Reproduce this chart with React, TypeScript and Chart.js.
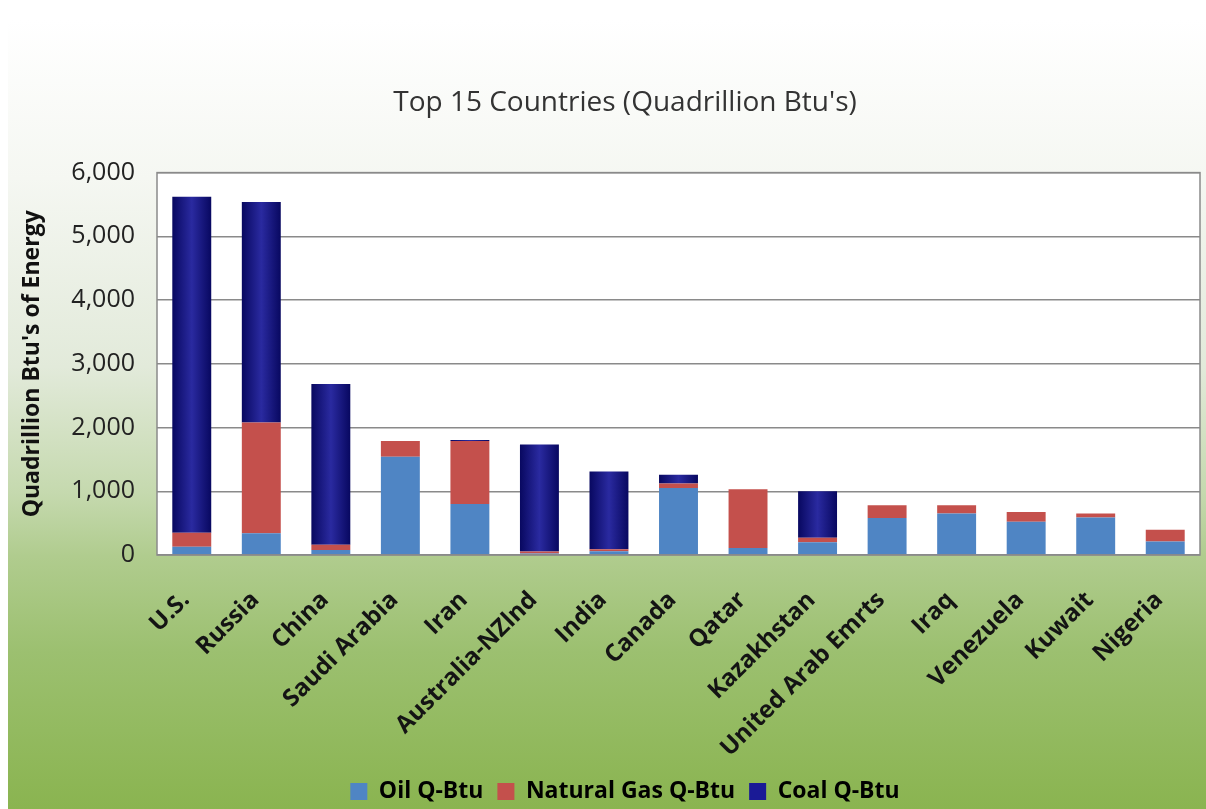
import React, { useEffect, useRef } from "react";
import { Chart, registerables } from "chart.js";

Chart.register(...registerables);

const categories = [
  "U.S.",
  "Russia",
  "China",
  "Saudi Arabia",
  "Iran",
  "Australia-NZlnd",
  "India",
  "Canada",
  "Qatar",
  "Kazakhstan",
  "United Arab Emrts",
  "Iraq",
  "Venezuela",
  "Kuwait",
  "Nigeria",
];
const oilValues = [130, 340, 80, 1540, 800, 25, 60, 1050, 110, 200, 580, 650, 520, 590, 210];
const gasValues = [220, 1740, 80, 250, 990, 30, 30, 70, 920, 70, 200, 130, 155, 60, 185];
const coalValues = [5270, 3460, 2525, 0, 15, 1680, 1220, 140, 0, 730, 0, 0, 0, 0, 0];
const yMax = 6000;
const yStep = 1000;

const FONT = "'Open Sans', 'DejaVu Sans', sans-serif";

export default function App() {
  const ref = useRef<HTMLCanvasElement>(null);

  useEffect(() => {
    const canvas = ref.current;
    if (!canvas) return;

    const bgPlugin = {
      id: "bgPlugin",
      beforeDraw(chart: any) {
        const { ctx, width, height, chartArea } = chart;
        ctx.save();
        ctx.fillStyle = "#ffffff";
        ctx.fillRect(0, 0, width, height);
        const g = ctx.createLinearGradient(0, 20, 0, height);
        g.addColorStop(0, "#ffffff");
        g.addColorStop(0.2, "#f5f7f2");
        g.addColorStop(0.44, "#e2eada");
        g.addColorStop(0.6, "#c5d9ae");
        g.addColorStop(0.68, "#b0cc8e");
        g.addColorStop(0.8, "#9cc070");
        g.addColorStop(1, "#8ab450");
        ctx.fillStyle = g;
        ctx.fillRect(8, 20, width - 8, height - 20);
        ctx.fillStyle = "#ffffff";
        ctx.fillRect(chartArea.left, chartArea.top, chartArea.right - chartArea.left, chartArea.bottom - chartArea.top);
        ctx.restore();
      },
      afterDatasetsDraw(chart: any) {
        const { ctx, chartArea } = chart;
        ctx.save();
        ctx.strokeStyle = "#8a8a8a";
        ctx.lineWidth = 1.5;
        ctx.strokeRect(chartArea.left, chartArea.top, chartArea.right - chartArea.left, chartArea.bottom - chartArea.top);
        ctx.restore();
      },
    };

    const coalFill = (context: any) => {
      const chart = context.chart;
      const xs = chart.scales?.x;
      if (!xs || context.type !== "data") return "#141480";
      const center = xs.getPixelForValue(context.dataIndex);
      const half = ((xs.right - xs.left) / categories.length) * 0.56 / 2;
      if (!isFinite(center) || !isFinite(half) || half <= 0) return "#141480";
      const g = chart.ctx.createLinearGradient(center - half, 0, center + half, 0);
      g.addColorStop(0, "#080860");
      g.addColorStop(0.5, "#2a2aa0");
      g.addColorStop(1, "#080860");
      return g;
    };

    const chart = new Chart(canvas, {
      type: "bar",
      data: {
        labels: categories,
        datasets: [
          {
            label: "Oil Q-Btu",
            data: oilValues,
            backgroundColor: "#4f85c4",
            borderWidth: 0,
          },
          {
            label: "Natural Gas Q-Btu",
            data: gasValues,
            backgroundColor: "#c4504c",
            borderWidth: 0,
          },
          {
            label: "Coal Q-Btu",
            data: coalValues,
            backgroundColor: coalFill,
            borderWidth: 0,
          },
        ],
      },
      options: {
        responsive: false,
        animation: false,
        layout: { padding: { left: 50, right: 6, top: 20, bottom: -4 } },
        datasets: {
          bar: { barPercentage: 0.56, categoryPercentage: 1 },
        },
        plugins: {
          tooltip: { enabled: false },
          title: {
            display: true,
            text: "Top 15 Countries (Quadrillion Btu's)",
            color: "#333333",
            font: { family: FONT, size: 28, weight: "normal" },
            padding: { top: 66, bottom: 53 },
          },
          legend: {
            position: "bottom",
            labels: {
              color: "#111111",
              boxWidth: 17,
              boxHeight: 17,
              padding: 14,
              font: { family: FONT, size: 23, weight: "bold" },
              generateLabels: (chart: any) =>
                chart.data.datasets.map((ds: any, i: number) => ({
                  text: ds.label,
                  fillStyle: ["#4f85c4", "#c4504c", "#1a1a96"][i],
                  strokeStyle: "rgba(0,0,0,0)",
                  lineWidth: 0,
                  datasetIndex: i,
                  hidden: false,
                })),
            },
          },
        },
        scales: {
          x: {
            stacked: true,
            grid: { display: false },
            border: { display: false },
            ticks: {
              maxRotation: 45,
              minRotation: 45,
              autoSkip: false,
              color: "#141414",
              padding: 23,
              labelOffset: -6,
              font: { family: FONT, size: 24, weight: "bold" },
            },
            afterFit: (s: any) => {
              s.height = 211;
              s.paddingRight = 0;
              s.paddingLeft = 0;
            },
          },
          y: {
            stacked: true,
            min: 0,
            max: yMax,
            border: { display: false },
            grid: { color: "#8a8a8a", lineWidth: 1.5, drawTicks: false },
            ticks: {
              stepSize: yStep,
              color: "#222222",
              padding: 22,
              font: { family: FONT, size: 25 },
              callback: (v: any) => Number(v).toLocaleString("en-US"),
            },
            title: {
              display: true,
              text: "Quadrillion Btu's of Energy",
              color: "#111111",
              font: { family: FONT, size: 23, weight: "bold" },
              padding: { top: -31, bottom: 0 },
            },
            afterFit: (s: any) => {
              s.width = 107;
            },
          },
        },
      },
      plugins: [bgPlugin],
    });

    return () => chart.destroy();
  }, []);

  return (
    <div style={{ position: "fixed", left: 0, top: 0, width: 1206, height: 809 }}>
      <canvas ref={ref} width={1206} height={809} style={{ display: "block", width: 1206, height: 809 }} />
    </div>
  );
}
